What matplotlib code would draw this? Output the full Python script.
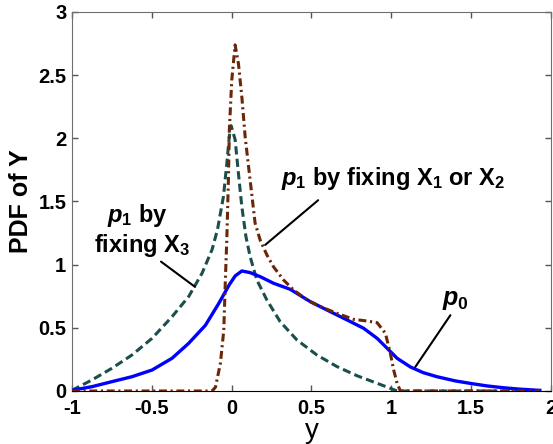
import matplotlib
matplotlib.use("Agg")
import matplotlib.pyplot as plt

plt.rcParams['font.family'] = ['Liberation Sans', 'DejaVu Sans']
plt.rcParams['mathtext.fontset'] = 'custom'
plt.rcParams['mathtext.rm'] = 'Liberation Sans:bold'
plt.rcParams['mathtext.bf'] = 'Liberation Sans:bold'
plt.rcParams['mathtext.it'] = 'Liberation Sans:italic:bold'

# p0 (solid blue)
p0_x = [-1.0, -0.875, -0.749, -0.624, -0.498, -0.373, -0.269, -0.164, -0.080, -0.015, 0.022,
        0.064, 0.116, 0.179, 0.262, 0.367, 0.493, 0.618, 0.744, 0.827, 0.911, 0.974, 1.036,
        1.12, 1.2, 1.286, 1.4, 1.495, 1.6, 1.7, 1.8, 1.93]
p0_y = [0.005, 0.034, 0.074, 0.113, 0.166, 0.259, 0.377, 0.52, 0.694, 0.84, 0.91,
        0.95, 0.937, 0.905, 0.853, 0.805, 0.707, 0.628, 0.549, 0.496, 0.417, 0.338, 0.259,
        0.19, 0.145, 0.113, 0.08, 0.06, 0.04, 0.026, 0.015, 0.005]

# p1 by fixing X3 (dashed green)
g_x = [-1.0, -0.875, -0.749, -0.624, -0.498, -0.373, -0.269, -0.185, -0.122, -0.088, -0.051,
       -0.03, -0.014, -0.003, 0.022, 0.043, 0.064, 0.09, 0.116, 0.158, 0.221, 0.304, 0.409,
       0.534, 0.66, 0.785, 0.911, 0.994, 1.036, 1.5, 1.93]
g_y = [0.005, 0.087, 0.18, 0.285, 0.417, 0.588, 0.747, 0.932, 1.12, 1.28, 1.54,
       1.80, 2.02, 2.1, 1.99, 1.72, 1.46, 1.22, 1.064, 0.879, 0.72, 0.549, 0.404,
       0.285, 0.193, 0.121, 0.061, 0.021, 0.0, 0.0, 0.0]

# p1 by fixing X1 or X2 (dash-dot brown)
b_x = [-1.0, -0.5, -0.122, -0.101, -0.07, -0.049, -0.039, -0.03, -0.02, -0.014, 0.001, 0.022,
       0.043, 0.064, 0.085, 0.116, 0.147, 0.18, 0.221, 0.262, 0.325, 0.388, 0.472, 0.555,
       0.66, 0.764, 0.848, 0.911, 0.963, 0.994, 1.015, 1.036, 1.057, 1.5, 1.93]
b_y = [0.0, 0.0, 0.0, 0.03, 0.22, 0.48, 0.88, 1.20, 1.67, 2.07, 2.46, 2.74,
       2.59, 2.33, 2.01, 1.67, 1.33, 1.19, 1.077, 0.984, 0.879, 0.80, 0.72, 0.668,
       0.615, 0.567, 0.554, 0.541, 0.457, 0.298, 0.166, 0.061, 0.0, 0.0, 0.0]

x_ticks = [-1, -0.5, 0, 0.5, 1, 1.5, 2]
x_ticklabels = ['-1', '-0.5', '0', '0.5', '1', '1.5', '2']
y_ticks = [0, 0.5, 1, 1.5, 2, 2.5, 3]
y_ticklabels = ['0', '0.5', '1', '1.5', '2', '2.5', '3']

fig = plt.figure(figsize=(5.53, 4.44), dpi=100)
ax = fig.add_axes([0.130, 0.1194, 0.8664, 0.8536])

ax.plot(g_x, g_y, color='#1b4f4c', lw=2.2, ls=(0, (2.7, 1.4)), zorder=2)
ax.plot(p0_x, p0_y, color='#0000ff', lw=2.4, ls='-', zorder=3)
ax.plot(b_x, b_y, color='#6b2608', lw=2.2, ls=(0, (2.6, 1.2, 0.7, 1.2)), zorder=4)

ax.set_xlim(-1, 2)
ax.set_ylim(0, 3)
ax.set_xticks(x_ticks)
ax.set_xticklabels(x_ticklabels)
ax.set_yticks(y_ticks)
ax.set_yticklabels(y_ticklabels)
ax.tick_params(direction='in', length=4, width=1, top=True, right=True,
               labelsize=14.5, colors='#555555', labelcolor='black')
ax.tick_params(axis='x', pad=6)
ax.tick_params(axis='y', pad=4)
for lab in ax.get_xticklabels() + ax.get_yticklabels():
    lab.set_fontweight('bold')
for s in ['left', 'top', 'right']:
    ax.spines[s].set_color('#6e6e6e')
ax.spines['bottom'].set_color('black')
ax.set_xlabel('y', fontsize=20, labelpad=0)
ax.set_ylabel('PDF of Y', fontsize=18, fontweight='bold', labelpad=4)

fs = 17
ax.annotate('', xy=(0.21, 1.156), xytext=(0.542, 1.51),
            arrowprops=dict(arrowstyle='-', color='black', lw=1.5, shrinkA=0, shrinkB=0))
ax.text(1.011, 1.63, r'$p_1$ by fixing X$_1$ or X$_2$', fontsize=fs, fontweight='bold',
        ha='center', va='baseline')

ax.annotate('', xy=(-0.229, 0.824), xytext=(-0.442, 1.024),
            arrowprops=dict(arrowstyle='-', color='black', lw=1.5, shrinkA=0, shrinkB=0))
ax.text(-0.592, 1.338, r'$p_1$ by', fontsize=fs, fontweight='bold', ha='center', va='baseline')
ax.text(-0.558, 1.103, r'fixing X$_3$', fontsize=fs, fontweight='bold', ha='center', va='baseline')

ax.annotate('', xy=(1.15, 0.19), xytext=(1.37, 0.60),
            arrowprops=dict(arrowstyle='-', color='black', lw=1.5, shrinkA=0, shrinkB=0))
ax.text(1.40, 0.72, r'$p_0$', fontsize=fs + 1, ha='center', va='center')

fig.savefig('out.png', dpi=100)
